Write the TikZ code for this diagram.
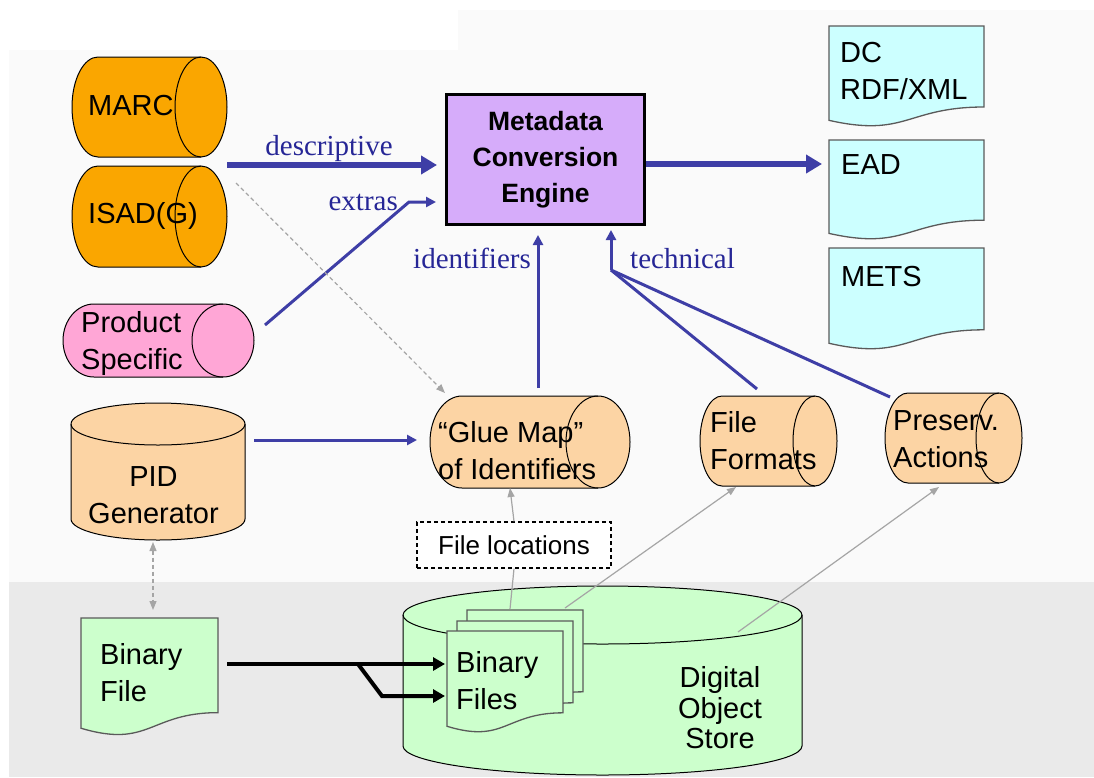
\documentclass[tikz,border=0pt]{standalone}
\usepackage{fontspec}
\setmainfont{Liberation Serif}
\setsansfont{Liberation Sans}
\usetikzlibrary{arrows.meta,calc}
\definecolor{bgtop}{RGB}{250,250,250}
\definecolor{bgbot}{RGB}{234,234,234}
\definecolor{orng}{RGB}{250,166,0}
\definecolor{peach}{RGB}{252,212,164}
\definecolor{pinkc}{RGB}{255,166,214}
\definecolor{purp}{RGB}{214,172,250}
\definecolor{cyanc}{RGB}{204,255,255}
\definecolor{greenc}{RGB}{204,255,204}
\definecolor{arrblue}{RGB}{62,62,166}
\definecolor{lblblue}{RGB}{38,38,150}
\definecolor{grayarr}{RGB}{165,165,165}
\definecolor{docline}{RGB}{90,90,90}
\tikzset{
  shapeline/.style={draw=black, line width=1pt},
  docshape/.style={draw=docline, line width=1.3pt},
  sf/.style={font=\sffamily\fontsize{29}{37}\selectfont, inner sep=0pt, align=left},
  lbl/.style={font=\fontsize{29}{34}\selectfont, text=lblblue, inner sep=0pt},
  blueline/.style={draw=arrblue, line width=3pt},
  bluearrow/.style={blueline, -{Triangle[length=10pt,width=10pt]}},
  bigarrow/.style={draw=arrblue, line width=5.5pt, -{Triangle[length=16pt,width=18pt]}},
  grayline/.style={draw=grayarr, line width=1.2pt},
  grayarrow/.style={grayline, -{Triangle[length=9pt,width=7pt]}},
  graydash/.style={grayline, dash pattern=on 4pt off 3pt, {Triangle[length=9pt,width=7pt]}-{Triangle[length=9pt,width=7pt]}},
  graydasharrow/.style={grayline, dash pattern=on 4pt off 3pt, -{Triangle[length=9pt,width=7pt]}},
  blackarrow/.style={draw=black, line width=4pt, -{Triangle[length=12pt,width=13pt]}},
}
% horizontal cylinder: x0 y0 x1 y1 rx fill
\newcommand{\HCyl}[6]{%
  \filldraw[shapeline, fill=#6] (#1+#5,#2) -- (#3-#5,#2)
    arc[start angle=-90, end angle=90, x radius=#5, y radius={(#4-#2)/2}]
    -- (#1+#5,#4)
    arc[start angle=90, end angle=270, x radius=#5, y radius={(#4-#2)/2}] -- cycle;
  \draw[shapeline] (#3-#5,#2)
    arc[start angle=-90, end angle=-270, x radius=#5, y radius={(#4-#2)/2}];
}
% vertical cylinder: x0 y0 x1 y1 ry fill
\newcommand{\VCyl}[6]{%
  \filldraw[shapeline, fill=#6] (#1,#2+#5) -- (#1,#4-#5)
    arc[start angle=180, end angle=0, x radius={(#3-#1)/2}, y radius=#5]
    -- (#3,#2+#5)
    arc[start angle=0, end angle=-180, x radius={(#3-#1)/2}, y radius=#5] -- cycle;
  \draw[shapeline] (#1,#2+#5)
    arc[start angle=180, end angle=0, x radius={(#3-#1)/2}, y radius=#5];
}
% document shape: x0 y0 x1 h fill
\newcommand{\DocShape}[5]{%
  \filldraw[docshape, fill=#5] (#1,#2) -- (#3,#2) -- (#3,{#2+0.802*#4})
    .. controls ({(#1+#3)/2},{#2+0.802*#4}) and ({(#1+#3)/2},{#2+1.1075*#4}) ..
    (#1,{#2+0.934*#4}) -- cycle;
}
\begin{document}
\begin{tikzpicture}[x=1pt, y=-1pt]
\useasboundingbox (0,0) rectangle (1094,777);
% background
\fill[white] (0,0) rectangle (1094,777);
\fill[bgtop] (9,50) rectangle (1094,582);
\fill[bgtop] (458,10) rectangle (1094,50);
\fill[bgbot] (9,582) rectangle (1094,777);

% ---- shapes ----
\HCyl{72}{57}{227}{157}{26}{orng}
\HCyl{72}{166}{227}{267}{26}{orng}
\HCyl{63}{304}{254}{377}{31}{pinkc}
\VCyl{71}{403}{245}{540}{21}{peach}
\HCyl{430}{396}{630}{488}{32}{peach}
\HCyl{700}{396}{837}{486}{22}{peach}
\HCyl{885}{393}{1022}{483}{23}{peach}
\VCyl{403}{586}{802}{775}{29}{greenc}

\DocShape{829}{26}{984}{101}{cyanc}
\DocShape{829}{140}{984}{100}{cyanc}
\DocShape{829}{248}{984}{102}{cyanc}
\DocShape{81}{618}{218}{118}{greenc}
\DocShape{467}{610}{583}{102}{greenc}
\DocShape{457}{621}{573}{102}{greenc}
\DocShape{447}{631}{563}{102}{greenc}

% ---- text nodes ----
\node[sf, anchor=base west] (marc) at (88,115) {MARC};
\node[sf, anchor=base west] (isad) at (88,223) {ISAD(G)};
\node[sf, anchor=west] (prod) at (81,343) {Product\\Specific};
\node[sf, align=center] (pid) at (153.5,495) {PID\\Generator};
\node[sf, anchor=west] (glue) at (438,451) {“Glue Map”\\of Identifiers};
\node[sf, anchor=west] (ff) at (710,441) {File\\Formats};
\node[sf, anchor=west] (pa) at (893,439) {Preserv.\\Actions};
\node[sf, anchor=west] (dc) at (840,71) {DC\\RDF/XML};
\node[sf, anchor=base west] (ead) at (841,174) {EAD};
\node[sf, anchor=base west] (mets) at (841,286) {METS};
\node[sf, anchor=west] (binf) at (100,673) {Binary\\File};
\node[sf, anchor=west] (binfs) at (456,681) {Binary\\Files};
\node[font=\sffamily\fontsize{29}{30.5}\selectfont, align=center, inner sep=0pt] (dos) at (720,708) {Digital\\Object\\Store};
\node[draw=black, line width=1.2pt, dash pattern=on 4pt off 3pt, fill=white,
      minimum width=194pt, minimum height=46pt, inner sep=0pt,
      font=\sffamily\fontsize{26}{30}\selectfont] (floc) at (514,545) {File locations};
\node[draw=black, line width=3pt, fill=purp, minimum width=198pt, minimum height=130pt,
      align=center, inner sep=0pt,
      font=\sffamily\bfseries\fontsize{26.5}{36}\selectfont] (engine) at (545.5,159.5)
      {Metadata\\Conversion\\Engine};

% ---- connector end points ----
\coordinate (srcA) at (227,165);
\coordinate (engA) at (437,165);
\coordinate (engOut) at (646,164);
\coordinate (eadIn) at (822,164);
\coordinate (prodOut) at (265,325);
\coordinate (exBend) at (409,202);
\coordinate (engX) at (436,202);
\coordinate (glueTop) at (538,388);
\coordinate (engId) at (538,235);
\coordinate (ffTop) at (757,389);
\coordinate (paTop) at (890,397);
\coordinate (techJ) at (611,270);
\coordinate (engT) at (611,230);
\coordinate (pidOut) at (254,440);
\coordinate (glueIn) at (417,440);
\coordinate (isadOut) at (236,183);
\coordinate (glueIn2) at (445,393);
\coordinate (stackTop) at (510,609);
\coordinate (glueBot) at (510,488);
\coordinate (stackR) at (565,608);
\coordinate (ffBot) at (736,487);
\coordinate (storeTop) at (738,632);
\coordinate (paBot) at (939,487);
\coordinate (pidBot) at (153,542);
\coordinate (binTop) at (153,610);
\coordinate (binOut) at (227,664);
\coordinate (stackIn1) at (445,664);
\coordinate (brA) at (358,664);
\coordinate (brB) at (382,696);
\coordinate (stackIn2) at (445,696);

% ---- connectors ----
\draw[bigarrow] (srcA) -- (engA);
\draw[bigarrow] (engOut) -- (eadIn);
\draw[bluearrow] (prodOut) -- (exBend) -- (engX);
\draw[bluearrow] (glueTop) -- (engId);
\draw[blueline] (ffTop) -- (techJ);
\draw[blueline] (paTop) -- (techJ);
\draw[bluearrow] (techJ) -- (engT);
\draw[bluearrow] (pidOut) -- (glueIn);
\draw[graydasharrow] (isadOut) -- (glueIn2);
\draw[grayline] (stackTop) -- (floc.south);
\draw[grayarrow] (floc.north) -- (glueBot);
\draw[grayarrow] (stackR) -- (ffBot);
\draw[grayarrow] (storeTop) -- (paBot);
\draw[graydash] (pidBot) -- (binTop);
\draw[blackarrow] (binOut) -- (stackIn1);
\draw[blackarrow] (brA) -- (brB) -- (stackIn2);

% ---- connector labels ----
\node[lbl, anchor=base] (ldesc) at (329,155) {descriptive};
\node[lbl, anchor=base east] (lextra) at (398,210) {extras};
\node[lbl, anchor=base east] (lid) at (531,268) {identifiers};
\node[lbl, anchor=base west] (ltech) at (630,268) {technical};
\end{tikzpicture}
\end{document}
